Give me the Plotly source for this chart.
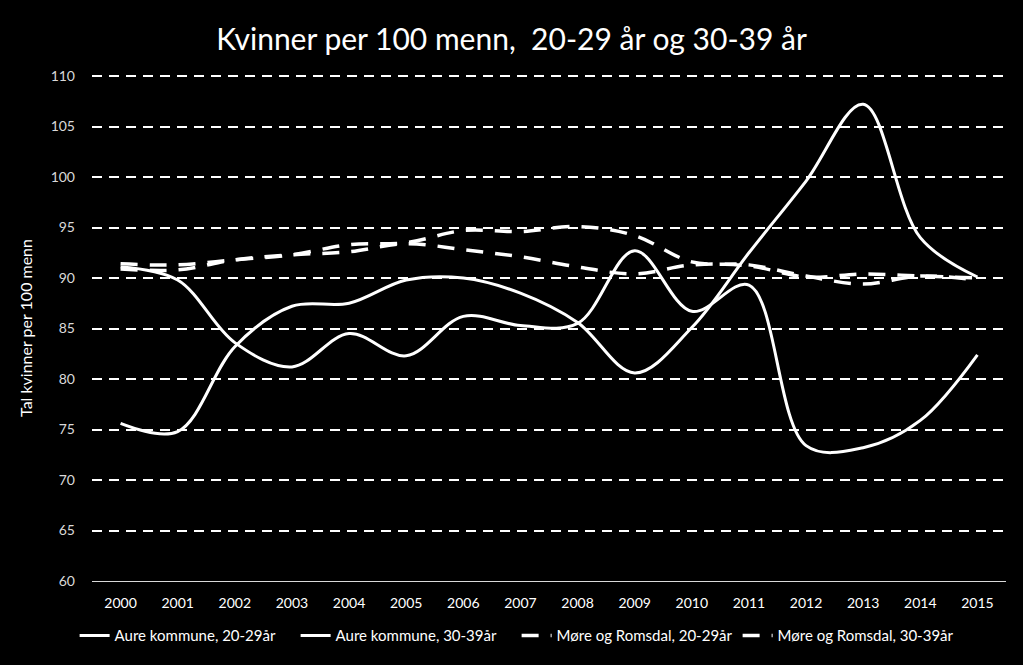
import plotly.graph_objects as go

# years on the x axis
years = [str(y) for y in range(2000, 2016)]

# Kvinner per 100 menn
aure_20_29 = [75.6, 74.8, 83.2, 87.2, 87.5, 89.8, 90.0, 88.5, 85.6, 80.6, 85.1, 92.5, 99.6, 107.2, 94.0, 90.1]
aure_30_39 = [91.1, 89.8, 83.6, 81.2, 84.5, 82.3, 86.2, 85.3, 85.5, 92.7, 86.7, 89.3, 73.4, 73.2, 75.9, 82.4]
mr_20_29 = [91.4, 91.3, 91.8, 92.3, 93.3, 93.5, 94.7, 94.6, 95.1, 94.2, 91.6, 91.3, 90.2, 89.4, 90.2, 89.8]
mr_30_39 = [90.9, 90.8, 91.8, 92.3, 92.6, 93.4, 92.8, 92.1, 91.1, 90.4, 91.3, 91.2, 90.1, 90.4, 90.2, 90.0]

ytick_vals = list(range(60, 111, 5))

font_main = "Lato, Open Sans, sans-serif"

fig = go.Figure()
# the two kommune lines are solid, the fylke lines dashed
fig.add_trace(go.Scatter(x=years, y=aure_20_29, mode='lines', name='Aure kommune, 20-29år',
                         line=dict(color='white', width=3, shape='spline', smoothing=1)))
fig.add_trace(go.Scatter(x=years, y=aure_30_39, mode='lines', name='Aure kommune, 30-39år',
                         line=dict(color='white', width=3, shape='spline', smoothing=1)))
fig.add_trace(go.Scatter(x=years, y=mr_20_29, mode='lines', name='Møre og Romsdal, 20-29år',
                         line=dict(color='white', width=3.5, dash='17px,12px', shape='spline', smoothing=1)))
fig.add_trace(go.Scatter(x=years, y=mr_30_39, mode='lines', name='Møre og Romsdal, 30-39år',
                         line=dict(color='white', width=3.5, dash='17px,12px', shape='spline', smoothing=1)))

fig.update_layout(
    width=1023, height=665,
    paper_bgcolor='black', plot_bgcolor='black',
    margin=dict(l=92, r=17, t=75, b=84, autoexpand=False),
    title=dict(text='Kvinner per 100 menn,  20-29 år og 30-39 år',
               x=0.5, xanchor='center', y=0.94, yanchor='middle',
               font=dict(family=font_main, size=30, color='white')),
    font=dict(family=font_main, size=14, color='white'),
    showlegend=True,
    legend=dict(orientation='h', xref='container', x=0.505, xanchor='center',
                yref='container', y=0.044, yanchor='middle',
                entrywidth=176,
                font=dict(family=font_main, size=15, color='white'),
                bgcolor='rgba(0,0,0,0)'),
)
fig.update_xaxes(type='category', range=[-0.5, 15.5], showgrid=False,
                 showline=True, linecolor='#d9d9d9', linewidth=1,
                 ticks='', ticklabelstandoff=9,
                 tickfont=dict(family=font_main, size=14, color='white'))
fig.update_yaxes(range=[60, 110.1], tickvals=ytick_vals, showgrid=True,
                 gridcolor='white', gridwidth=1.5, griddash='10px,7px',
                 zeroline=False, showline=False, ticks='', ticklabelstandoff=16,
                 tickfont=dict(family=font_main, size=14, color='#d9d9d9'),
                 title=dict(text='Tal kvinner per 100 menn', standoff=14,
                            font=dict(family=font_main, size=16, color='white')))

# drop the browser's default page margin so the figure sits at 0,0
fig.write_html("out.html", config={'displayModeBar': False},
               post_script="document.body.style.margin='0';")
